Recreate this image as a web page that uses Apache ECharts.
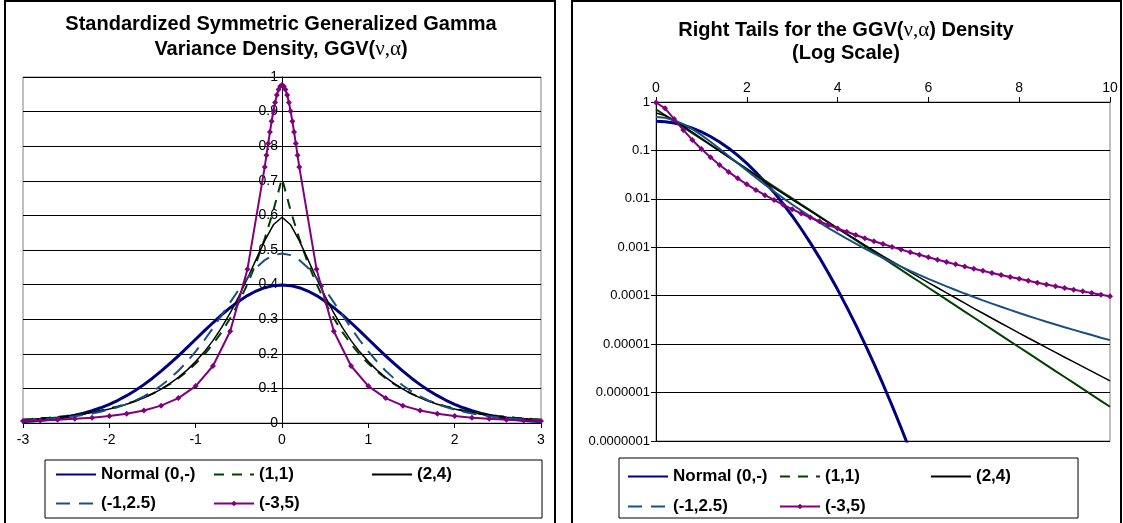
<!DOCTYPE html>
<html><head><meta charset="utf-8">
<script src="https://cdn.jsdelivr.net/npm/echarts@6/dist/echarts.min.js"></script>
<style>html,body{margin:0;padding:0;background:#fff}#c{width:1123px;height:523px}</style>
</head><body><div id="c"></div>
<script>
// ---------- LEFT CHART DATA (linear scale) ----------
const leftX = [-3,-2.9,-2.8,-2.7,-2.6,-2.5,-2.4,-2.3,-2.2,-2.1,-2,-1.9,-1.8,-1.7,-1.6,-1.5,-1.4,-1.3,-1.2,-1.1,-1,-0.9,-0.8,-0.7,-0.6,-0.5,-0.4,-0.3,-0.2,-0.1,0,0.1,0.2,0.3,0.4,0.5,0.6,0.7,0.8,0.9,1,1.1,1.2,1.3,1.4,1.5,1.6,1.7,1.8,1.9,2,2.1,2.2,2.3,2.4,2.5,2.6,2.7,2.8,2.9,3];
const leftNormal = [0.0044,0.0060,0.0079,0.0104,0.0136,0.0175,0.0224,0.0283,0.0355,0.0440,0.0540,0.0656,0.0790,0.0940,0.1109,0.1295,0.1497,0.1714,0.1942,0.2179,0.2420,0.2661,0.2897,0.3123,0.3332,0.3521,0.3683,0.3814,0.3910,0.3970,0.3989,0.3970,0.3910,0.3814,0.3683,0.3521,0.3332,0.3123,0.2897,0.2661,0.2420,0.2179,0.1942,0.1714,0.1497,0.1295,0.1109,0.0940,0.0790,0.0656,0.0540,0.0440,0.0355,0.0283,0.0224,0.0175,0.0136,0.0104,0.0079,0.0060,0.0044];
const left11 = [0.0102,0.0117,0.0135,0.0155,0.0179,0.0206,0.0237,0.0273,0.0315,0.0363,0.0418,0.0481,0.0554,0.0639,0.0736,0.0847,0.0976,0.1125,0.1295,0.1492,0.1719,0.1980,0.2281,0.2627,0.3027,0.3486,0.4016,0.4626,0.5329,0.6138,0.7071,0.6138,0.5329,0.4626,0.4016,0.3486,0.3027,0.2627,0.2281,0.1980,0.1719,0.1492,0.1295,0.1125,0.0976,0.0847,0.0736,0.0639,0.0554,0.0481,0.0418,0.0363,0.0315,0.0273,0.0237,0.0206,0.0179,0.0155,0.0135,0.0117,0.0102];
const left24 = [0.0096,0.0111,0.0128,0.0147,0.0169,0.0195,0.0226,0.0261,0.0301,0.0348,0.0403,0.0467,0.0541,0.0627,0.0727,0.0843,0.0978,0.1135,0.1318,0.1529,0.1774,0.2056,0.2382,0.2755,0.3180,0.3663,0.4177,0.4729,0.5270,0.5729,0.5947,0.5729,0.5270,0.4729,0.4177,0.3663,0.3180,0.2755,0.2382,0.2056,0.1774,0.1529,0.1318,0.1135,0.0978,0.0843,0.0727,0.0627,0.0541,0.0467,0.0403,0.0348,0.0301,0.0261,0.0226,0.0195,0.0169,0.0147,0.0128,0.0111,0.0096];
const leftM125 = [0.0077,0.0089,0.0104,0.0121,0.0142,0.0167,0.0197,0.0232,0.0275,0.0325,0.0386,0.0458,0.0545,0.0648,0.0770,0.0914,0.1084,0.1283,0.1512,0.1773,0.2068,0.2392,0.2744,0.3113,0.3488,0.3855,0.4194,0.4485,0.4710,0.4852,0.4901,0.4852,0.4710,0.4485,0.4194,0.3855,0.3488,0.3113,0.2744,0.2392,0.2068,0.1773,0.1512,0.1283,0.1084,0.0914,0.0770,0.0648,0.0545,0.0458,0.0386,0.0325,0.0275,0.0232,0.0197,0.0167,0.0142,0.0121,0.0104,0.0089,0.0077];
const leftPurpleX = [-3,-2.8,-2.6,-2.4,-2.2,-2,-1.8,-1.6,-1.4,-1.2,-1,-0.8,-0.6,-0.4,-0.2,-0.18,-0.16,-0.14,-0.12,-0.1,-0.08,-0.06,-0.04,-0.02,0,0.02,0.04,0.06,0.08,0.1,0.12,0.14,0.16,0.18,0.2,0.4,0.6,0.8,1,1.2,1.4,1.6,1.8,2,2.2,2.4,2.6,2.8,3];
const leftM35 = [0.00612,0.00755,0.00948,0.01193,0.01530,0.01996,0.02653,0.03604,0.05018,0.07195,0.1067,0.1647,0.2653,0.4445,0.7401,0.7742,0.8080,0.8409,0.8722,0.9011,0.9266,0.9477,0.9636,0.9735,0.9768,0.9735,0.9636,0.9477,0.9266,0.9011,0.8722,0.8409,0.8080,0.7742,0.7401,0.4445,0.2653,0.1647,0.1067,0.07195,0.05018,0.03604,0.02653,0.01996,0.01530,0.01193,0.00948,0.00755,0.00612];

// ---------- RIGHT CHART DATA (log scale) ----------
const rightX = [0,0.2,0.4,0.6,0.8,1,1.2,1.4,1.6,1.8,2,2.2,2.4,2.6,2.8,3,3.2,3.4,3.6,3.8,4,4.2,4.4,4.6,4.8,5,5.2,5.4,5.6,5.8,6,6.2,6.4,6.6,6.8,7,7.2,7.4,7.6,7.8,8,8.2,8.4,8.6,8.8,9,9.2,9.4,9.6,9.8,10];
const rightNormal = [0.3989,0.3910,0.3683,0.3332,0.2897,0.2420,0.1942,0.1497,0.1109,0.0790,0.0540,0.03547,0.02239,0.01358,0.00792,0.00443,0.002384,0.001232,0.000612,0.0002919,0.0001338,0.0000589,0.00002494,0.00001014,0.00000396,0.000001487,5.36e-7,1.86e-7,6.2e-8];
const right11 = [0.7071,0.5329,0.4016,0.3027,0.2281,0.1719,0.1295,0.0976,0.0736,0.0554,0.0418,0.0315,0.0237,0.0179,0.0135,0.0102,0.00766,0.00577,0.00435,0.00328,0.00247,0.00186,0.00140,0.00106,0.000797,0.000601,0.000453,0.000341,0.000257,0.000194,0.000146,0.000110,0.0000829,0.0000625,0.0000471,0.0000355,0.0000267,0.0000202,0.0000152,0.0000114,0.00000863,0.00000650,0.00000490,0.00000369,0.00000278,0.00000210,0.00000158,0.00000119,8.97e-7,6.76e-7,5.10e-7];
const right24 = [0.5947,0.5270,0.4177,0.3180,0.2382,0.1774,0.1318,0.0978,0.0727,0.0541,0.0403,0.0301,0.0226,0.0169,0.0128,0.00961,0.00731,0.00556,0.00423,0.00322,0.00244,0.00188,0.00145,0.00111,0.000855,0.000658,0.000511,0.000397,0.000308,0.000239,0.000186,0.000146,0.000114,0.0000896,0.0000702,0.0000550,0.0000434,0.0000343,0.0000270,0.0000214,0.0000169,0.0000134,0.0000107,0.00000848,0.00000674,0.00000536,0.00000429,0.00000343,0.00000274,0.00000219,0.00000175];
const rightM125 = [0.4901,0.4710,0.4194,0.3488,0.2744,0.2068,0.1512,0.1084,0.0770,0.05446,0.03858,0.02746,0.01968,0.01423,0.01038,0.00766,0.00570,0.004285,0.003255,0.002494,0.001929,0.001505,0.001184,0.000939,0.000749,0.000603,0.000488,0.000398,0.000326,0.000269,0.000223,0.000186,0.0001558,0.0001311,0.0001108,0.0000941,0.0000802,0.0000687,0.0000590,0.0000509,0.0000440,0.0000382,0.0000332,0.0000290,0.0000254,0.0000223,0.0000197,0.0000174,0.0000154,0.0000136,0.0000121];
const rightM35 = [0.9768,0.7401,0.4445,0.2653,0.1647,0.1067,0.07195,0.05018,0.03604,0.02653,0.01996,0.01530,0.01193,0.00948,0.00755,0.00612,0.004988,0.004115,0.003432,0.002891,0.002457,0.002088,0.001788,0.001541,0.001337,0.001167,0.001019,0.000895,0.000789,0.000699,0.000622,0.000554,0.000495,0.000444,0.000399,0.000360,0.000326,0.000295,0.000268,0.000244,0.000223,0.000203,0.000186,0.000171,0.000157,0.000145,0.000133,0.000123,0.000114,0.000105,0.0000979];
const rightYTickLabels = ['0.0000001','0.000001','0.00001','0.0001','0.001','0.01','0.1','1'];

const seriesNames = ['Normal (0,-)','(1,1)','(2,4)','(-1,2.5)','(-3,5)'];
const FONT = '"Liberation Sans", Arial, sans-serif';

function pairs(xs, ys){ const out=[]; for(let i=0;i<ys.length;i++){ if(ys[i]!=null) out.push([xs[i], ys[i]]); } return out; }

const styles = [
  {color:'#000080', width:3, type:'solid'},
  {color:'#004000', width:2, type:[10,8]},
  {color:'#000000', width:1.5, type:'solid'},
  {color:'#1A5080', width:2, type:[14,9]},
  {color:'#800080', width:2, type:'solid'}
];

function mkSeries(idx, data, gi, rightSolid){
  const st = styles[idx];
  const s = {
    name: seriesNames[idx], type:'line', data: data,
    xAxisIndex: gi, yAxisIndex: gi, clip: true,
    lineStyle:{color:st.color, width:st.width, type: rightSolid ? 'solid' : st.type},
    itemStyle:{color:st.color},
    symbol:'none', showSymbol:false, smooth:false, animation:false, z: 2+idx
  };
  if(idx===4){ s.symbol='diamond'; s.showSymbol=true; s.symbolSize=6; }
  return s;
}

const series = [
  mkSeries(0, pairs(leftX, leftNormal), 0, false),
  mkSeries(1, pairs(leftX, left11), 0, false),
  mkSeries(2, pairs(leftX, left24), 0, false),
  mkSeries(3, pairs(leftX, leftM125), 0, false),
  mkSeries(4, pairs(leftPurpleX, leftM35), 0, false),
  mkSeries(0, pairs(rightX, rightNormal), 1, true),
  mkSeries(1, pairs(rightX, right11), 1, true),
  mkSeries(2, pairs(rightX, right24), 1, true),
  mkSeries(3, pairs(rightX, rightM125), 1, true),
  mkSeries(4, pairs(rightX, rightM35), 1, true)
];

function leg(idx, left, top){
  const isMarker = idx === 4;
  return { show:true, left:left, top:top, data:[seriesNames[idx]],
    itemWidth:40, itemHeight: isMarker ? 7 : 12, padding:0, selectedMode:false,
    itemStyle: isMarker ? {} : {color:'rgba(0,0,0,0)', borderColor:'rgba(0,0,0,0)', borderWidth:0, opacity:0},
    textStyle:{fontSize:17, fontWeight:'bold', color:'#000', fontFamily:FONT} };
}

const axisLbl = {fontSize:13, color:'#000', fontFamily:FONT};
const blackLine = {color:'#000', width:1};
const TF = 'bold 20px ' + FONT;
const GF = '21px "Liberation Serif", serif';

const option = {
  animation:false,
  backgroundColor:'#fff',
  textStyle:{fontFamily:FONT},
  grid:[
    {left:23, top:77, width:518, height:346, show:true, borderColor:'#808080', borderWidth:1, backgroundColor:'#fff'},
    {left:656, top:102, width:454, height:339, show:true, borderColor:'#808080', borderWidth:1, backgroundColor:'#fff'}
  ],
  xAxis:[
    {gridIndex:0, type:'value', min:-3, max:3, interval:1,
     axisLine:{show:true, onZero:false, lineStyle:blackLine},
     axisTick:{show:true, length:5, lineStyle:blackLine},
     axisLabel:Object.assign({margin:10}, axisLbl, {fontSize:14}), splitLine:{show:false}},
    {gridIndex:1, type:'value', min:0, max:10, interval:2, position:'top',
     axisLine:{show:true, onZero:false, lineStyle:blackLine},
     axisTick:{show:true, length:5, lineStyle:blackLine},
     axisLabel:Object.assign({margin:7}, axisLbl, {fontSize:14}), splitLine:{show:false}}
  ],
  yAxis:[
    {gridIndex:0, type:'value', min:0, max:1, interval:0.1, position:'left', offset:-259,
     axisLine:{show:true, onZero:false, lineStyle:blackLine},
     axisTick:{show:true, length:5, lineStyle:blackLine},
     axisLabel:Object.assign({margin:4}, axisLbl, {fontSize:14}),
     splitLine:{show:true, lineStyle:{color:'#000', width:1}}},
    {gridIndex:1, type:'log', logBase:10, min:1e-7, max:1, interval:1, splitNumber:7,
     axisLine:{show:true, onZero:false, lineStyle:blackLine},
     axisTick:{show:true, length:5, lineStyle:blackLine},
     axisLabel:Object.assign({margin:6, formatter:function(v){ return rightYTickLabels[Math.round(Math.log10(v))+7]; }}, axisLbl),
     minorTick:{show:false}, minorSplitLine:{show:false},
     splitLine:{show:true, lineStyle:{color:'#000', width:1}}}
  ],
  legend:[
    leg(0, 55, 466), leg(1, 213, 466), leg(2, 371, 466),
    leg(3, 55, 495), leg(4, 213, 495),
    leg(0, 627, 468), leg(1, 779, 468), leg(2, 930, 468),
    leg(3, 627, 498), leg(4, 779, 498)
  ],
  graphic:[
    {type:'rect', shape:{x:5, y:1, width:550, height:540}, style:{fill:'none', stroke:'#000', lineWidth:2}, z:-1, silent:true},
    {type:'rect', shape:{x:572, y:1, width:549, height:540}, style:{fill:'none', stroke:'#000', lineWidth:2}, z:-1, silent:true},
    {type:'rect', shape:{x:45, y:460, width:497, height:58}, style:{fill:'none', stroke:'#000', lineWidth:1}, silent:true},
    {type:'rect', shape:{x:619, y:458, width:459, height:60}, style:{fill:'none', stroke:'#000', lineWidth:1}, silent:true},
    {type:'text', x:281, y:24, silent:true, style:{text:'Standardized Symmetric Generalized Gamma', font:TF, fill:'#000', align:'center', verticalAlign:'middle'}},
    {type:'text', x:281, y:49, silent:true, style:{text:'{b|Variance Density, GGV(}{g|ν,α}{b|)}', align:'center', verticalAlign:'middle',
      rich:{b:{font:TF, fill:'#000'}, g:{font:GF, fill:'#000'}}}},
    {type:'text', x:846, y:30, silent:true, style:{text:'{b|Right Tails for the GGV(}{g|ν,α}{b|) Density}', align:'center', verticalAlign:'middle',
      rich:{b:{font:TF, fill:'#000'}, g:{font:GF, fill:'#000'}}}},
    {type:'text', x:846, y:53, silent:true, style:{text:'(Log Scale)', font:TF, fill:'#000', align:'center', verticalAlign:'middle'}}
  ],
  series: series
};

const chart = echarts.init(document.getElementById('c'), null, {renderer:'canvas'});
chart.setOption(option);
</script>
</body></html>
